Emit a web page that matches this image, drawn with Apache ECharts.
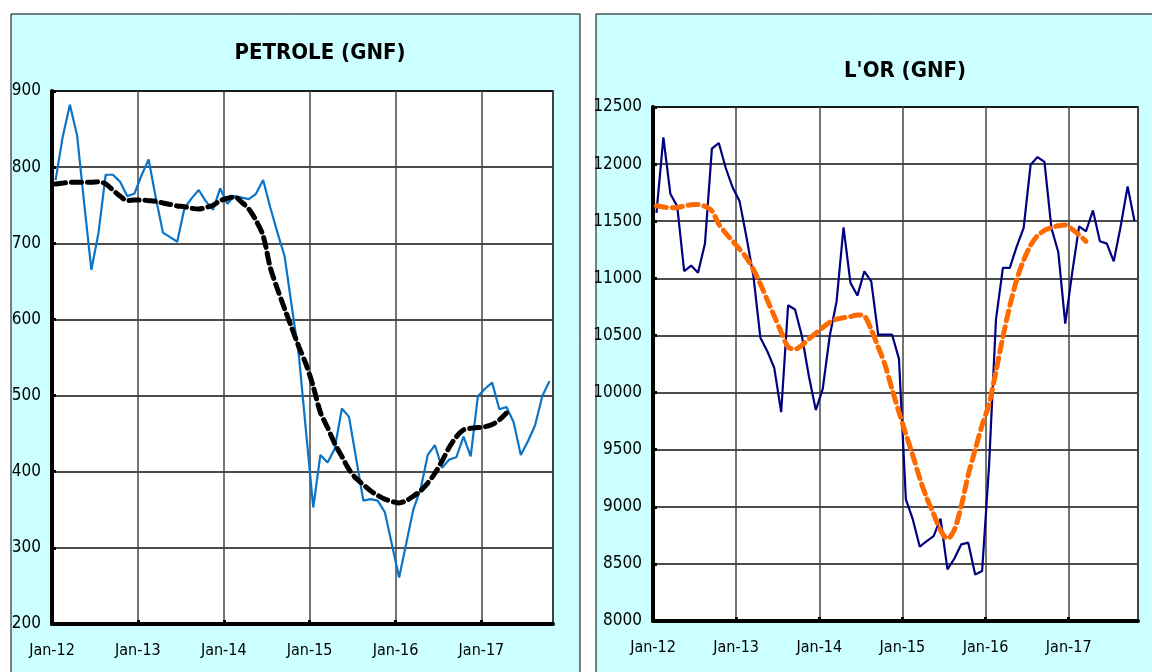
<!DOCTYPE html>
<html>
<head>
<meta charset="utf-8">
<script src="https://cdn.jsdelivr.net/npm/echarts@6/dist/echarts.min.js"></script>
<style>
  html, body { margin: 0; padding: 0; background: #fff; }
  #chart { width: 1152px; height: 672px; }
</style>
</head>
<body>
<div id="chart"></div>
<script>
// monthly values, Jan-12 .. Oct-17
var yearTicks = ["Jan-12", "Jan-13", "Jan-14", "Jan-15", "Jan-16", "Jan-17"];

var petrole = [
  783, 840, 882, 842, 752, 665, 714, 790, 790, 781, 762, 765,
  789, 810, 760, 714, 708, 702, 746, 759, 770, 755, 744, 772,
  752, 762, 760, 758, 765, 783, 747, 714, 683, 617, 552, 452,
  353, 422, 412, 430, 483, 472, 417, 362, 364, 362, 347, 304,
  261, 306, 351, 377, 422, 435, 405, 416, 419, 446, 420, 499,
  509, 517, 482, 485, 465, 422, 440, 461, 499, 519
];
var petroleTrend = [
  778, 779, 780, 780, 780, 780, 781, 778, 770, 762, 756, 757,
  757, 756, 755, 753, 751, 749, 748, 746, 745, 747, 750, 756,
  759, 761, 754, 745, 730, 710, 668, 640, 614, 589, 564, 541,
  512, 478, 458, 437, 420, 403, 391, 383, 375, 369, 364, 361,
  359, 362, 368, 375, 385, 398, 414, 432, 446, 455, 457, 458,
  459, 462, 468, 477
];

var orPrice = [
  11573, 12234, 11741, 11630, 11062, 11112, 11048, 11304, 12135, 12185, 11966, 11795,
  11674, 11358, 11018, 10479, 10362, 10216, 9828, 10764, 10727, 10493, 10143, 9846,
  10033, 10493, 10800, 11447, 10960, 10849, 11062, 10974, 10508, 10508, 10508, 10295,
  9064, 8889, 8650, 8700, 8743, 8895, 8452, 8547, 8671, 8686, 8408, 8437,
  9356, 10639, 11091, 11091, 11280, 11441, 11995, 12062, 12019, 11441, 11228, 10604,
  11048, 11455, 11412, 11595, 11324, 11304, 11149, 11455, 11805, 11499
];
var orTrend = [
  11636, 11625, 11618, 11620, 11632, 11645, 11647, 11630, 11590, 11475, 11395, 11325,
  11255, 11180, 11075, 10950, 10810, 10670, 10530, 10400, 10380, 10414, 10470, 10520,
  10570, 10615, 10642, 10655, 10665, 10680, 10670, 10550, 10400, 10240, 10030, 9829,
  9635, 9450, 9250, 9078, 8938, 8795, 8720, 8800, 9010, 9280, 9500, 9715,
  9900, 10185, 10487, 10760, 10990, 11160, 11290, 11373, 11419, 11445, 11460, 11468,
  11430, 11380, 11324
];

var nMonths = 70;
var narrow = "'DejaVu Sans Condensed', 'Liberation Sans Narrow', sans-serif";

// points sit in the middle of each month slot
function toPoints(arr) {
  return arr.map(function (v, i) { return [i + 0.5, v]; });
}

function xAxisFor(gridIndex) {
  return {
    gridIndex: gridIndex,
    type: "value",
    min: 0,
    max: nMonths,
    interval: 12,
    axisLine: { show: true, lineStyle: { color: "#000", width: 4 } },
    axisTick: { show: true, inside: true, length: 4, lineStyle: { color: "#000", width: 3 } },
    axisLabel: {
      color: "#000", fontSize: 16, fontFamily: narrow, margin: 19,
      showMaxLabel: false,
      formatter: function (v) { return yearTicks[v / 12] || ""; }
    },
    splitLine: { show: true, lineStyle: { color: "#444", width: 1.5 } }
  };
}

function yAxisFor(gridIndex, min, max, step) {
  return {
    gridIndex: gridIndex,
    type: "value",
    min: min,
    max: max,
    interval: step,
    axisLine: { show: true, lineStyle: { color: "#000", width: 4 } },
    axisTick: { show: true, inside: true, length: 4, lineStyle: { color: "#000", width: 3 } },
    axisLabel: {
      color: "#000", fontSize: 17, fontFamily: narrow, margin: 11,
      formatter: function (v) { return String(v); }
    },
    splitLine: { show: true, lineStyle: { color: "#111", width: 1.5 } }
  };
}

var chart = echarts.init(document.getElementById("chart"));

chart.setOption({
  animation: false,
  backgroundColor: "#fff",
  graphic: [
    { type: "rect", z: -10, shape: { x: 11, y: 14, width: 569, height: 700 },
      style: { fill: "#ccffff", stroke: "#000", lineWidth: 1 } },
    { type: "rect", z: -10, shape: { x: 596, y: 14, width: 600, height: 700 },
      style: { fill: "#ccffff", stroke: "#000", lineWidth: 1 } }
  ],
  title: [
    { text: "PETROLE (GNF)", left: 315, top: 37, textAlign: "center",
      textStyle: { fontFamily: narrow, fontWeight: "bold", fontSize: 22, color: "#000" } },
    { text: "L'OR (GNF)", left: 900, top: 55, textAlign: "center",
      textStyle: { fontFamily: narrow, fontWeight: "bold", fontSize: 22, color: "#000" } }
  ],
  grid: [
    { left: 52, top: 91, right: 599, bottom: 48, show: true,
      backgroundColor: "#fff", borderColor: "#000", borderWidth: 1.5 },
    { left: 653, top: 107, right: 14, bottom: 51, show: true,
      backgroundColor: "#fff", borderColor: "#000", borderWidth: 1.5 }
  ],
  xAxis: [xAxisFor(0), xAxisFor(1)],
  yAxis: [yAxisFor(0, 200, 900, 100), yAxisFor(1, 8000, 12500, 500)],
  series: [
    {
      name: "Petrole", type: "line", xAxisIndex: 0, yAxisIndex: 0,
      data: toPoints(petrole), showSymbol: false,
      lineStyle: { color: "#0a74c8", width: 2.2 }
    },
    {
      name: "Petrole tendance", type: "line", xAxisIndex: 0, yAxisIndex: 0,
      data: toPoints(petroleTrend), showSymbol: false, smooth: 0.3,
      lineStyle: { color: "#000", width: 5, type: [10, 6], cap: "round" }
    },
    {
      name: "Or", type: "line", xAxisIndex: 1, yAxisIndex: 1,
      data: toPoints(orPrice), showSymbol: false,
      lineStyle: { color: "#000080", width: 2.2 }
    },
    {
      name: "Or tendance", type: "line", xAxisIndex: 1, yAxisIndex: 1,
      data: toPoints(orTrend), showSymbol: false, smooth: 0.3,
      lineStyle: { color: "#ff6a00", width: 5, type: [10, 6], cap: "round" }
    }
  ]
});
</script>
</body>
</html>
